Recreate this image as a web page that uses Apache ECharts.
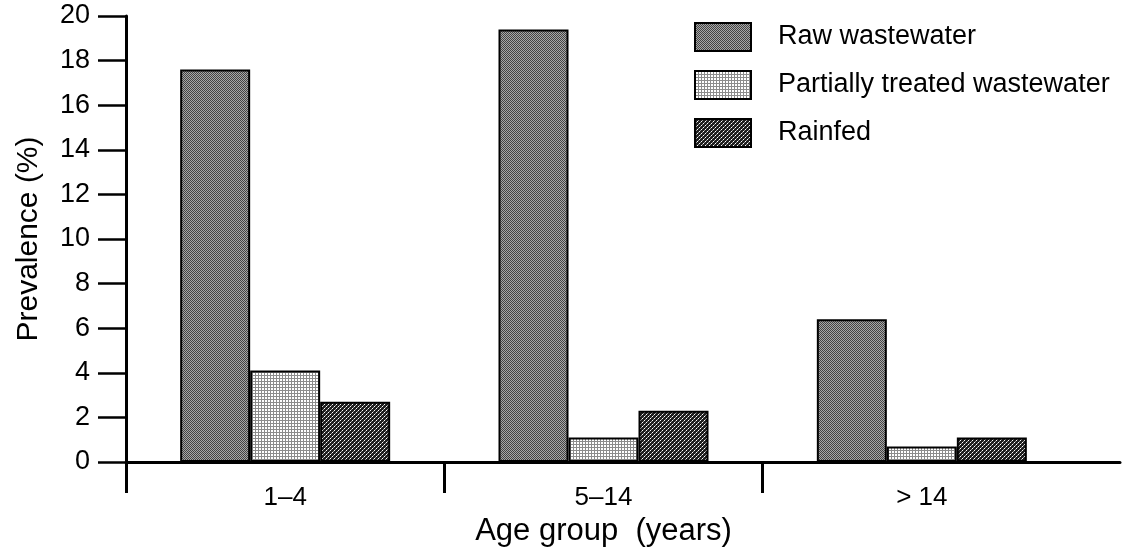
<!DOCTYPE html>
<html>
<head>
<meta charset="utf-8">
<script src="https://cdn.jsdelivr.net/npm/echarts@6/dist/echarts.min.js"></script>
<style>
html, body { margin: 0; padding: 0; background: #fff; }
#chart { width: 1129px; height: 552px; }
</style>
</head>
<body>
<div id="chart"></div>
<script>
// data
var categories = ['1\u20134', '5\u201314', '> 14']
var rawWastewater = [17.6, 19.4, 6.4]
var partiallyTreated = [4.1, 1.1, 0.7]
var rainfed = [2.7, 2.3, 1.1]
var yTicks = [0, 2, 4, 6, 8, 10, 12, 14, 16, 18, 20]

var FONT = 'Liberation Sans, Arial, sans-serif'

// small canvas tiles used as hatch fills
function makePattern(size, draw) {
    var c = document.createElement('canvas')
    c.width = size
    c.height = size
    var ctx = c.getContext('2d')
    draw(ctx)
    return { image: c, repeat: 'repeat' }
}

var rawFill = makePattern(2, function (ctx) {
    ctx.fillStyle = '#a8a8a8'
    ctx.fillRect(0, 0, 2, 2)
    ctx.fillStyle = '#444444'
    ctx.fillRect(0, 0, 1, 1)
    ctx.fillRect(1, 1, 1, 1)
})

var partialFill = makePattern(3, function (ctx) {
    ctx.fillStyle = '#ffffff'
    ctx.fillRect(0, 0, 3, 3)
    ctx.fillStyle = '#8c8c8c'
    ctx.fillRect(0, 0, 3, 1)
    ctx.fillRect(0, 0, 1, 3)
})

var rainFill = makePattern(4, function (ctx) {
    ctx.fillStyle = '#1e1e1e'
    ctx.fillRect(0, 0, 4, 4)
    ctx.fillStyle = '#ffffff'
    ctx.fillRect(0, 0, 1, 1)
    ctx.fillRect(2, 2, 1, 1)
    ctx.fillStyle = '#9a9a9a'
    ctx.fillRect(1, 3, 1, 1)
    ctx.fillRect(3, 1, 1, 1)
})

function barSeries(name, values, fill) {
    return {
        name: name,
        type: 'bar',
        xAxisIndex: 0,
        yAxisIndex: 0,
        data: values,
        barWidth: 70,
        barGap: '0%',
        itemStyle: {
            color: fill,
            borderColor: '#000',
            borderWidth: 2
        }
    }
}

var chart = echarts.init(document.getElementById('chart'), null, { renderer: 'canvas' })

chart.setOption({
    animation: false,
    backgroundColor: '#fff',
    textStyle: { fontFamily: FONT, color: '#000' },
    grid: [
        { left: 126, right: 48, top: 16, bottom: 90 },
        // wider grid only used for the long baseline and the group ticks
        { left: 126, right: 9, top: 16, bottom: 90 }
    ],
    legend: {
        orient: 'vertical',
        left: 689,
        top: 17,
        itemWidth: 56,
        itemHeight: 28,
        itemGap: 18,
        icon: 'rect',
        data: ['Raw wastewater', 'Partially treated wastewater', 'Rainfed'],
        textStyle: {
            fontFamily: FONT,
            fontSize: 27,
            color: '#000',
            padding: [0, 0, 0, 22]
        }
    },
    xAxis: [
        {
            type: 'category',
            gridIndex: 0,
            data: categories,
            position: 'bottom',
            axisLine: { show: false },
            axisTick: { show: false },
            axisLabel: {
                fontFamily: FONT,
                fontSize: 26,
                color: '#000',
                margin: 23
            },
            name: 'Age group  (years)',
            nameLocation: 'middle',
            nameGap: 54,
            nameTextStyle: { fontFamily: FONT, fontSize: 31, color: '#000' }
        },
        {
            type: 'value',
            gridIndex: 1,
            min: 0,
            max: 3.1225,
            position: 'bottom',
            splitLine: { show: false },
            axisLine: { show: true, lineStyle: { color: '#000', width: 3 } },
            axisTick: {
                show: true,
                length: 31,
                customValues: [0, 1, 2],
                lineStyle: { color: '#000', width: 3 }
            },
            axisLabel: { show: false }
        }
    ],
    yAxis: [
        {
            type: 'value',
            gridIndex: 0,
            min: 0,
            max: 20,
            interval: 2,
            splitLine: { show: false },
            axisLine: { show: true, lineStyle: { color: '#000', width: 3 } },
            axisTick: { show: true, length: 28, lineStyle: { color: '#000', width: 2.5 } },
            axisLabel: {
                fontFamily: FONT,
                fontSize: 27,
                color: '#000',
                margin: 36,
                customValues: yTicks
            },
            name: 'Prevalence (%)',
            nameLocation: 'middle',
            nameGap: 82,
            nameTextStyle: { fontFamily: FONT, fontSize: 30, color: '#000' }
        },
        {
            type: 'value',
            gridIndex: 1,
            min: 0,
            max: 20,
            show: false
        }
    ],
    series: [
        barSeries('Raw wastewater', rawWastewater, rawFill),
        barSeries('Partially treated wastewater', partiallyTreated, partialFill),
        barSeries('Rainfed', rainfed, rainFill)
    ]
})
</script>
</body>
</html>
